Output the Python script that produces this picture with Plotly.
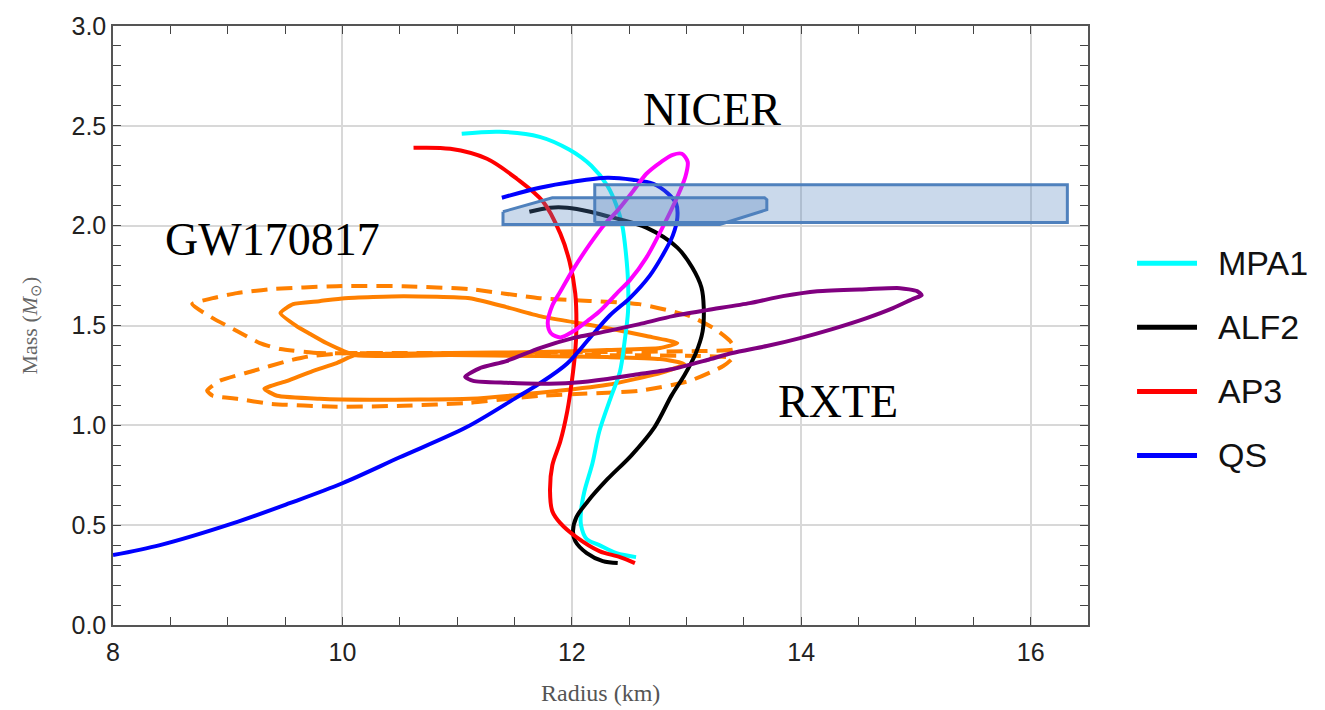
import plotly.graph_objects as go

# ---- Equation-of-state mass-radius curves (radius km, mass Msun) ----
mpa1_r = [11.04, 11.37, 11.72, 11.98, 12.17, 12.31, 12.39, 12.44, 12.47, 12.49, 12.49,
          12.46, 12.42, 12.34, 12.24, 12.18, 12.11, 12.08, 12.08, 12.13, 12.24, 12.39, 12.56]
mpa1_m = [2.46, 2.47, 2.445, 2.38, 2.30, 2.20, 2.10, 2.00, 1.87, 1.72, 1.57,
          1.42, 1.27, 1.14, 0.97, 0.81, 0.67, 0.57, 0.50, 0.43, 0.40, 0.36, 0.34]

alf2_r = [11.63, 11.81, 11.96, 12.16, 12.36, 12.65, 12.92, 13.05, 13.13, 13.15, 13.14, 13.08,
          12.98, 12.87, 12.72, 12.52, 12.31, 12.14, 12.04, 12.01, 12.03, 12.13, 12.27, 12.40]
alf2_m = [2.07, 2.09, 2.09, 2.07, 2.04, 1.99, 1.89, 1.79, 1.69, 1.59, 1.47, 1.36,
          1.25, 1.15, 0.99, 0.85, 0.73, 0.62, 0.54, 0.47, 0.42, 0.36, 0.32, 0.31]

ap3_r = [10.62, 10.94, 11.26, 11.52, 11.75, 11.90, 11.98, 12.03, 12.04, 12.03, 12.00,
         11.96, 11.90, 11.83, 11.81, 11.83, 11.90, 12.04, 12.24, 12.42, 12.55]
ap3_m = [2.39, 2.385, 2.335, 2.235, 2.12, 1.96, 1.82, 1.66, 1.49, 1.37, 1.22,
         1.07, 0.92, 0.80, 0.67, 0.57, 0.51, 0.44, 0.37, 0.34, 0.31]

qs_r = [8.00, 8.41, 9.05, 9.54, 10.00, 10.50, 11.08, 11.52, 11.72, 11.96, 12.16, 12.33,
        12.51, 12.68, 12.79, 12.88, 12.92, 12.91, 12.84, 12.71, 12.53, 12.31, 12.01, 11.72, 11.39]
qs_m = [0.35, 0.40, 0.51, 0.61, 0.71, 0.84, 0.99, 1.14, 1.21, 1.31, 1.44, 1.55,
        1.64, 1.75, 1.85, 1.95, 2.04, 2.11, 2.16, 2.21, 2.23, 2.24, 2.22, 2.19, 2.14]

# ---- Observational constraints ----
# GW170817 credible regions (inner solid, outer dashed)
gw_in_r = [10.11, 9.86, 9.72, 9.60, 9.46, 9.57, 9.80, 10.02, 10.53, 11.11, 11.43, 11.72,
           12.01, 12.31, 12.65, 12.92, 12.77, 12.31, 11.72, 10.94, 10.33, 10.13, 9.95,
           9.74, 9.52, 9.32, 9.43, 9.80, 10.24, 11.11, 11.72, 12.31, 12.77, 12.98, 12.77,
           12.31, 11.72, 10.94, 10.11]
gw_in_m = [1.352, 1.412, 1.457, 1.497, 1.562, 1.607, 1.622, 1.637, 1.647, 1.637, 1.592, 1.547,
           1.517, 1.487, 1.447, 1.412, 1.387, 1.377, 1.367, 1.362, 1.357, 1.357, 1.312,
           1.272, 1.223, 1.183, 1.148, 1.133, 1.128, 1.133, 1.163, 1.203, 1.262, 1.307, 1.332,
           1.342, 1.347, 1.352, 1.352]

gw_out_r = [10.07, 9.80, 9.46, 9.28, 9.08, 8.87, 8.69, 8.87, 9.08, 9.37, 9.95, 10.53, 11.11,
            11.72, 12.59, 13.03, 13.25, 13.38, 13.42, 13.12, 12.24, 11.37, 10.50, 10.07,
            9.72, 9.52, 9.22, 8.93, 8.82, 8.87, 9.08, 9.37, 9.95, 10.53, 11.11, 11.72, 12.59,
            13.03, 13.32, 13.40, 13.12, 12.24, 11.37, 10.50, 10.07]
gw_out_m = [1.362, 1.362, 1.382, 1.412, 1.472, 1.537, 1.607, 1.637, 1.662, 1.682, 1.697, 1.697, 1.682,
            1.637, 1.607, 1.547, 1.482, 1.422, 1.382, 1.372, 1.367, 1.362, 1.362, 1.362,
            1.347, 1.322, 1.272, 1.223, 1.173, 1.148, 1.133, 1.108, 1.093, 1.098, 1.113, 1.148, 1.173,
            1.223, 1.297, 1.337, 1.347, 1.352, 1.357, 1.357, 1.362]

# NICER ellipse
nicer_r = [12.96, 13.01, 12.99, 12.92, 12.79, 12.65, 12.51, 12.39, 12.24, 12.13, 12.01, 11.90,
           11.82, 11.79, 11.83, 11.90, 12.00, 12.16, 12.29, 12.39, 12.53, 12.65, 12.78, 12.88, 12.96]
nicer_m = [2.36, 2.32, 2.245, 2.145, 1.99, 1.84, 1.73, 1.66, 1.57, 1.52, 1.47, 1.44,
           1.46, 1.51, 1.60, 1.67, 1.77, 1.91, 2.01, 2.07, 2.17, 2.26, 2.32, 2.355, 2.36]

# RXTE region
rxte_r = [11.07, 11.20, 11.43, 11.72, 12.01, 12.31, 12.59, 12.88, 13.18, 13.55, 13.84, 14.14,
          14.57, 14.86, 15.01, 15.05, 14.97, 14.80, 14.57, 14.27, 13.99, 13.70, 13.40, 13.18,
          12.88, 12.59, 12.31, 12.01, 11.72, 11.43, 11.14, 11.07]
rxte_m = [1.243, 1.287, 1.322, 1.387, 1.437, 1.472, 1.507, 1.547, 1.577, 1.612, 1.647, 1.672,
          1.682, 1.687, 1.672, 1.652, 1.632, 1.587, 1.537, 1.482, 1.437, 1.397, 1.362, 1.327,
          1.282, 1.257, 1.232, 1.213, 1.208, 1.213, 1.223, 1.243]

# Massive pulsar bands
band_wide_r = [12.20, 16.32, 16.32, 12.20, 12.20]
band_wide_m = [2.016, 2.016, 2.205, 2.205, 2.016]
band_narrow_r = [11.40, 11.83, 13.68, 13.70, 13.70, 13.29, 11.40, 11.40]
band_narrow_m = [2.07, 2.14, 2.14, 2.13, 2.08, 2.006, 2.006, 2.07]

eos_names = ["MPA1", "ALF2", "AP3", "QS"]
eos_colors = ["#00FFFF", "#000000", "#FF0000", "#0000FF"]
eos_r = [mpa1_r, alf2_r, ap3_r, qs_r]
eos_m = [mpa1_m, alf2_m, ap3_m, qs_m]

ORANGE = "#FF8000"
BAND_LINE = "rgb(79,129,189)"
BAND_FILL = "rgba(79,129,189,0.30)"

fig = go.Figure()

fig.add_trace(go.Scatter(x=gw_out_r, y=gw_out_m, mode="lines", showlegend=False,
                         line=dict(color=ORANGE, width=4, dash="16px,9px", shape="spline", smoothing=0.5)))
fig.add_trace(go.Scatter(x=gw_in_r, y=gw_in_m, mode="lines", showlegend=False,
                         line=dict(color=ORANGE, width=4, shape="spline", smoothing=0.5)))

for name, col, r, m in zip(eos_names, eos_colors, eos_r, eos_m):
    fig.add_trace(go.Scatter(x=r, y=m, mode="lines", name=name, showlegend=False,
                             line=dict(color=col, width=4, shape="spline", smoothing=0.9)))

fig.add_trace(go.Scatter(x=rxte_r, y=rxte_m, mode="lines", showlegend=False,
                         line=dict(color="#800080", width=4, shape="spline", smoothing=0.6)))
fig.add_trace(go.Scatter(x=nicer_r, y=nicer_m, mode="lines", showlegend=False,
                         line=dict(color="#FF00FF", width=4, shape="spline", smoothing=0.8)))

for br, bm in [(band_wide_r, band_wide_m), (band_narrow_r, band_narrow_m)]:
    fig.add_trace(go.Scatter(x=br, y=bm, mode="lines", fill="toself", fillcolor=BAND_FILL,
                             showlegend=False, line=dict(color=BAND_LINE, width=3)))

# Manual legend to the right of the plot
for i, (name, col) in enumerate(zip(eos_names, eos_colors)):
    yp = 0.604 - i * 0.107
    fig.add_shape(type="line", xref="paper", yref="paper", x0=1.0503, x1=1.1118, y0=yp, y1=yp,
                  line=dict(color=col, width=5))
    fig.add_annotation(xref="paper", yref="paper", x=1.131, y=yp, text=name, showarrow=False,
                       xanchor="left", yanchor="middle",
                       font=dict(family="Liberation Sans, Arial", size=34, color="#111111"))

serif = "Liberation Serif, Times New Roman"
for txt, x, y in [("GW170817", 9.39, 1.93), ("NICER", 13.22, 2.58), ("RXTE", 14.32, 1.12)]:
    fig.add_annotation(x=x, y=y, xref="x", yref="y", text=txt, showarrow=False,
                       xanchor="center", yanchor="middle",
                       font=dict(family=serif, size=46, color="#000000"))

fig.add_annotation(xref="paper", yref="paper", x=-0.0851, y=0.5, text="Mass (<i>M</i><sub>⊙</sub>)",
                   textangle=-90, showarrow=False, xanchor="center", yanchor="middle",
                   font=dict(family=serif, size=22, color="#666666"))
fig.add_annotation(xref="paper", yref="paper", x=0.5, y=-0.113, text="Radius (km)",
                   showarrow=False, xanchor="center", yanchor="middle",
                   font=dict(family=serif, size=24, color="#555555"))

axis_common = dict(ticks="inside", ticklen=8, tickwidth=1.3, tickcolor="#444444",
                   showline=True, linecolor="#555555", linewidth=1.5, mirror="allticks",
                   showgrid=True, gridcolor="#D8D8D8", gridwidth=1.5, zeroline=False,
                   tickfont=dict(family="Liberation Sans, Arial", size=25, color="#222222"))

fig.update_xaxes(range=[8, 16.5], tick0=8, dtick=2, ticklabelstandoff=4,
                 minor=dict(dtick=0.5, ticks="inside", ticklen=8, tickcolor="#444444", showgrid=False),
                 **axis_common)
fig.update_yaxes(range=[0, 3], tick0=0, dtick=0.5, tickformat=".1f",
                 minor=dict(dtick=0.1, ticks="inside", ticklen=8, tickcolor="#444444", showgrid=False),
                 **axis_common)

fig.update_layout(width=1325, height=710, margin=dict(l=113, r=237, t=24, b=85),
                  paper_bgcolor="white", plot_bgcolor="white")

fig.write_html("out.html")
